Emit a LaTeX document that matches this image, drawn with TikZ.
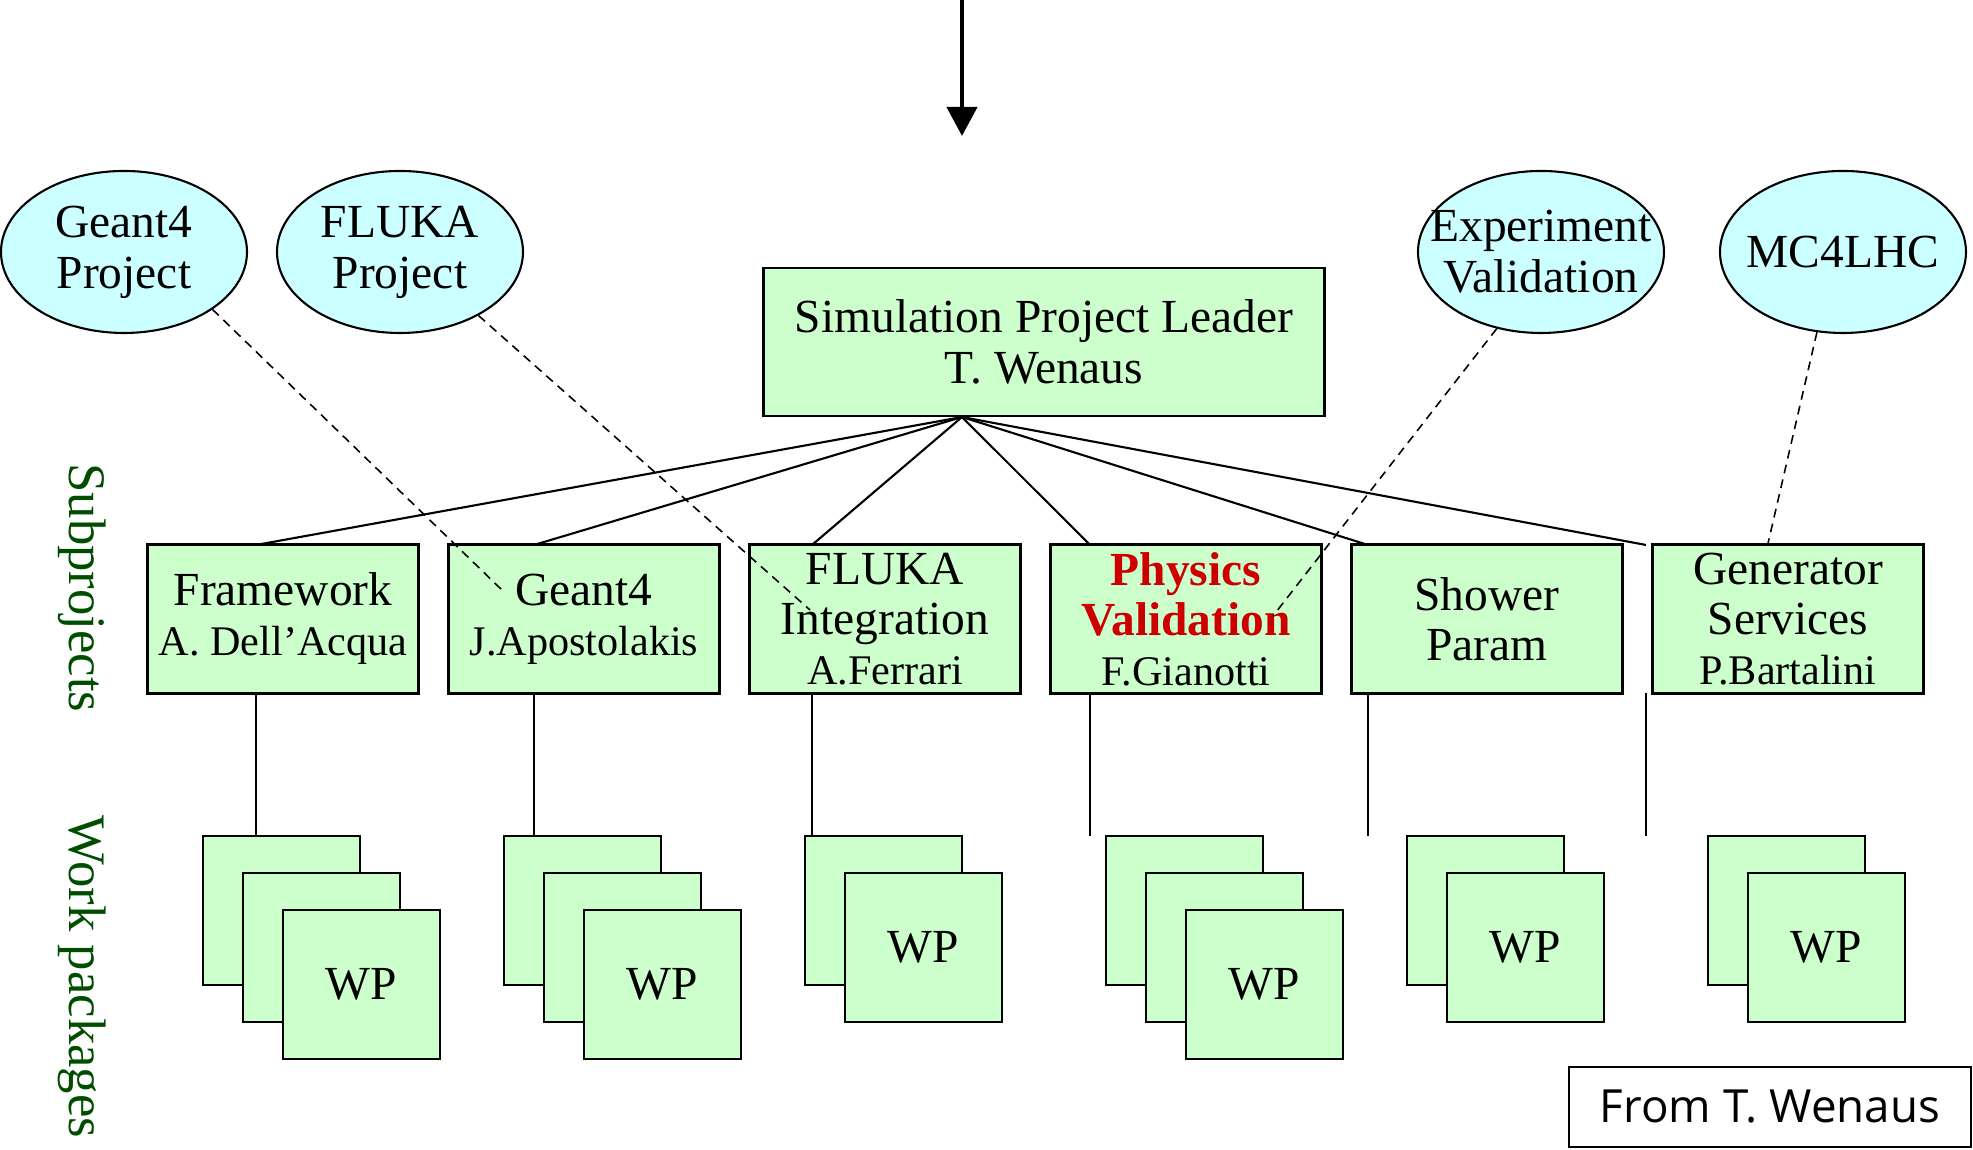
\documentclass[tikz,border=0pt]{standalone}
\usepackage{fontspec}
\setmainfont{Liberation Serif}
\newfontfamily\notefont{Open Sans}
\usetikzlibrary{shapes.geometric,arrows.meta}

\definecolor{boxgreen}{RGB}{204,255,204}
\definecolor{projcyan}{RGB}{204,255,255}
\definecolor{labgreen}{RGB}{0,77,0}
\definecolor{pvred}{RGB}{204,0,0}

\newcommand{\who}[1]{{\fontsize{12}{13}\selectfont #1}}
\newcommand{\pv}[1]{\textcolor{pvred}{\bfseries #1}}

\tikzset{
  leadbox/.style={draw, line width=.6pt, fill=boxgreen, minimum width=5.61cm, minimum height=1.48cm, align=center, font=\fontsize{13.5}{14.5}\selectfont},
  subbox/.style={draw, line width=.6pt, fill=boxgreen, minimum width=2.71cm, minimum height=1.49cm, inner sep=0pt, align=center, font=\fontsize{13.5}{14.2}\selectfont},
  wpbox/.style={draw, line width=.6pt, fill=boxgreen, minimum width=1.57cm, minimum height=1.49cm, inner sep=0pt, font=\fontsize{13.5}{14}\selectfont},
  proj/.style={ellipse, draw, line width=.6pt, fill=projcyan, minimum width=2.46cm, minimum height=1.62cm, inner sep=0pt},
  projtxt/.style={align=center, inner sep=0pt, font=\fontsize{13.5}{14.5}\selectfont},
  sidelab/.style={rotate=-90, text=labgreen, font=\fontsize{15}{15}\selectfont},
  link/.style={line width=.6pt},
  dlink/.style={line width=.45pt, dash pattern=on 2.5pt off 1.8pt},
}

\begin{document}
\begin{tikzpicture}
\useasboundingbox (0,0) rectangle (19.73,11.5);

% incoming arrow
\coordinate (atop) at (9.62,11.5);
\coordinate (atip) at (9.62,10.14);
\draw[line width=1.2pt, -{Triangle[length=2.9mm,width=3mm]}] (atop) -- (atip);

% outside projects
\node[proj, label={[projtxt]center:Geant4\\Project}] (g4p) at (1.24,8.98) {};
\node[proj, label={[projtxt]center:FLUKA\\Project}] (flp) at (4.00,8.98) {};
\node[proj, label={[projtxt]center:Experiment\\Validation}] (evp) at (15.41,8.98) {};
\node[proj, label={[projtxt]center:MC4LHC}] (mcp) at (18.43,8.98) {};

% leader
\node[leadbox] (lead) at (10.44,8.08) {Simulation Project Leader\\T. Wenaus};
\coordinate (apex) at ([xshift=-0.82cm]lead.south);

% subprojects
\node[subbox] (fw) at (2.83,5.31) {Framework\\\who{A. Dell'Acqua}};
\node[subbox] (g4) at (5.84,5.31) {Geant4\\\who{J.Apostolakis}};
\node[subbox] (fl) at (8.85,5.31) {FLUKA\\Integration\\\who{A.Ferrari}};
\node[subbox] (pv) at (11.86,5.31) {\pv{Physics}\\\pv{Validation}\\\who{F.Gianotti}};
\node[subbox] (sh) at (14.87,5.31) {Shower\\Param};
\node[subbox] (gen) at (17.88,5.31) {Generator\\Services\\\who{P.Bartalini}};

\node[sidelab] (sublab) at (0.82,5.62) {Subprojects};
\node[sidelab] (wplab) at (0.82,1.73) {Work packages};

% links leader -> subprojects -> work packages
\foreach \i in {0,...,5} {
  \coordinate (up\i) at ({2.56+2.78*\i},6.05);
  \coordinate (dn\i) at ({2.56+2.78*\i},4.57);
  \coordinate (wp\i) at ({2.56+2.78*\i},3.14);
  \draw[link] (apex) -- (up\i);
  \draw[link] (dn\i) -- (wp\i);
}

% work package stacks
\foreach \c/\n in {0/3,1/3,2/2,3/3,4/2,5/2} {
  \foreach \k in {1,...,\n} {
    \node[wpbox] (wpb\c-\k) at ({2.815+3.01*\c+0.40*(\k-1)},{2.395-0.37*(\k-1)}) {\ifnum\k=\n WP\fi};
  }
}

% dashed relations
\coordinate (g4x) at ([shift={(-0.80,0.27)}]g4.center);
\coordinate (flx) at ([shift={(-0.75,0.09)}]fl.center);
\coordinate (pvx) at ([shift={(0.87,0.03)}]pv.center);
\coordinate (genx) at ([xshift=-0.2cm]gen.north);
\draw[dlink] (g4p.-33) -- (g4x);
\draw[dlink] (flp.-39) -- (flx);
\draw[dlink] (evp.-120) -- (pvx);
\draw[dlink] (mcp.-108) -- (genx);

\node[draw, line width=.8pt, minimum width=4.02cm, minimum height=0.80cm, font=\notefont\fontsize{13}{13}\selectfont] (src) at (17.70,0.43) {From T. Wenaus};
\end{tikzpicture}
\end{document}
